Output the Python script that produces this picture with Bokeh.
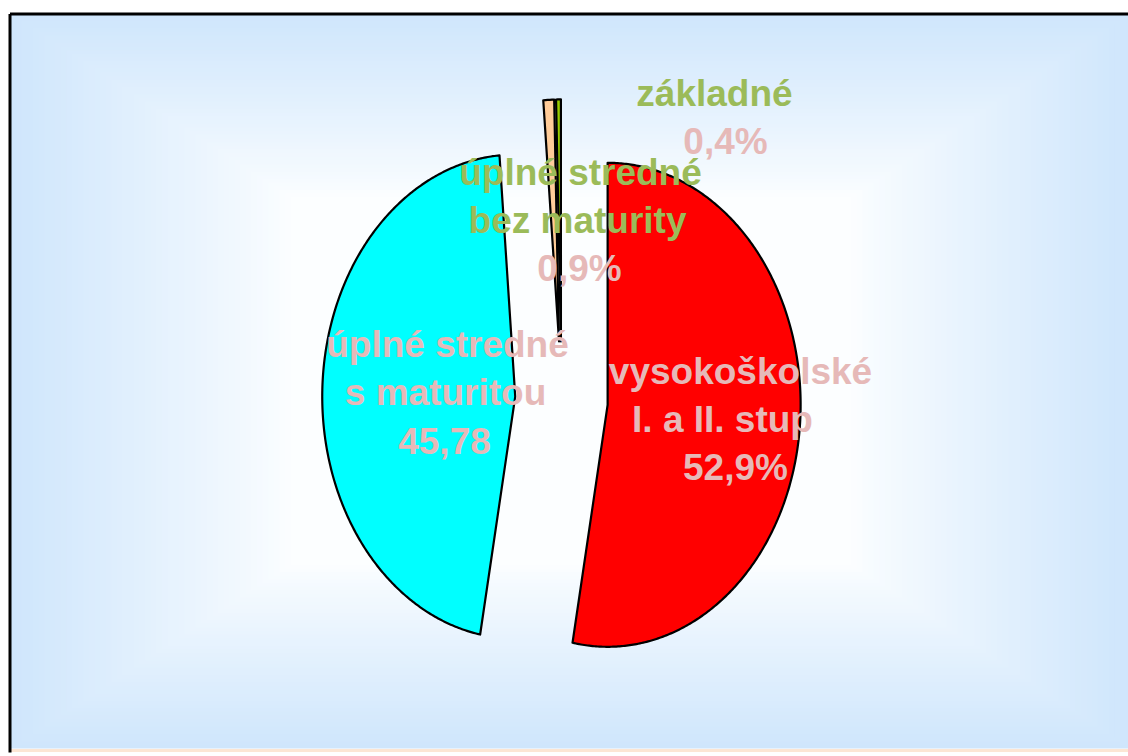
import numpy as np
from bokeh.plotting import figure
from bokeh.models import Range1d, ColumnDataSource
from bokeh.embed import file_html
from bokeh.resources import INLINE
from bokeh.core.properties import value

# ---------------- data ----------------
categories = ["vysokoškolské\nI. a II. stup", "úplné stredné\ns maturitou",
              "úplné stredné\nbez maturity", "základné"]
values = [52.9, 45.78, 0.9, 0.4]
value_labels = ["52,9%", "45,78", "0,9%", "0,4%"]

# ---------------- style / layout ----------------
slice_colors = ["#ff0000", "#00ffff", "#ffcc99", "#99cc00"]
name_colors = ["#e6b9b8", "#e6b9b8", "#9bbb59", "#9bbb59"]
value_color = "#e6b9b8"
CX, CY = 561.0, 399.0        # pie centre (px)
RX, RY = 193.0, 242.0        # ellipse radii
EXPLODE = 0.24               # explosion as fraction of radius
# label anchors: per-line x centres, first baseline
label_x = [[740, 722, 735], [447, 445, 444], [580, 577, 579], [714, 725]]
label_y0 = [371, 344, 172, 93]
LINE_H = 48

W, H = 1128, 756
p = figure(width=W, height=H, output_backend="svg", toolbar_location=None,
           x_range=Range1d(0, W), y_range=Range1d(H, 0),
           min_border=0, outline_line_color=None)
p.axis.visible = False
p.grid.visible = False
p.background_fill_color = "white"
p.border_fill_color = "white"

# ---------------- background gradient (nested rectangles) ----------------
gx, gy, ghw, ghh = 570.5, 380.5, 560.5, 367.5
edge = np.array([207, 230, 252])
centre = np.array([252, 254, 255])
svals = np.arange(1.0, 0.46, -0.01)
L, R, T, B, C = [], [], [], [], []
for s in svals:
    t = min(1.0, max(0.0, (s - 0.50) / 0.50)) ** 0.9
    col = centre + (edge - centre) * t
    L.append(gx - s * ghw); R.append(gx + s * ghw)
    T.append(gy - s * ghh); B.append(gy + s * ghh)
    C.append("#%02x%02x%02x" % tuple(int(round(c)) for c in col))
p.quad(left=L, right=R, top=T, bottom=B, fill_color=C, line_color=None)
# bottom peach strip
p.quad(left=[10], right=[1140], top=[748.5], bottom=[751.5], fill_color="#fce6d4", line_color=None)
# frame lines (left, top)
p.multi_line(xs=[[9.5, 9.5], [9.5, 1140]], ys=[[752, 13.5], [13.5, 13.5]],
             line_color="black", line_width=3)

# ---------------- slices ----------------
total = sum(values)
xs_all, ys_all = [], []
cum = 0.0
for v in values:
    a0 = 90.0 - 360.0 * cum / total
    a1 = a0 - 360.0 * v / total
    cum += v
    mid = np.radians((a0 + a1) / 2)
    ox = CX + EXPLODE * RX * np.cos(mid)
    oy = CY - EXPLODE * RY * np.sin(mid)
    n = max(4, int(abs(a1 - a0) * 2))
    ang = np.radians(np.linspace(a0, a1, n))
    xs_all.append([ox] + list(ox + RX * np.cos(ang)))
    ys_all.append([oy] + list(oy - RY * np.sin(ang)))
p.patches(xs=xs_all, ys=ys_all, fill_color=slice_colors, line_color="black",
          line_width=2.2, line_join="round")

# ---------------- labels ----------------
tx, ty, tt, tc = [], [], [], []
for i, cat in enumerate(categories):
    lines = cat.split("\n") + [value_labels[i]]
    for j, ln in enumerate(lines):
        tx.append(label_x[i][j])
        ty.append(label_y0[i] + j * LINE_H)
        tt.append(ln)
        tc.append(name_colors[i] if j < len(lines) - 1 else value_color)
src = ColumnDataSource(dict(x=tx, y=ty, text=tt, color=tc))
p.text(x="x", y="y", text="text", source=src, text_color="color",
       text_font=value("Liberation Sans"), text_font_style="bold",
       text_font_size="37px", text_align="center", text_baseline="alphabetic")

open("out.html", "w").write(file_html(p, INLINE))
